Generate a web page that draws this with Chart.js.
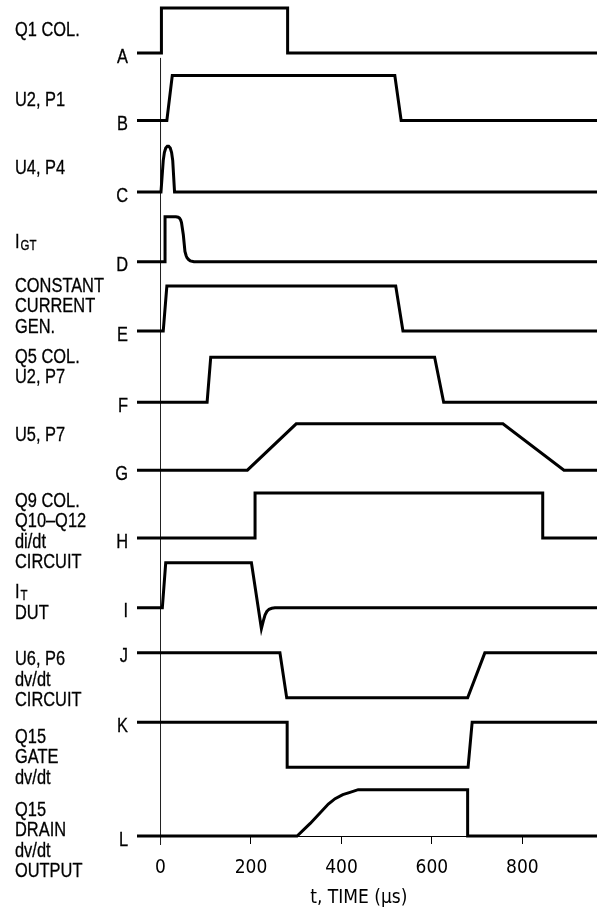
<!DOCTYPE html>
<html>
<head>
<meta charset="utf-8">
<script src="https://cdn.jsdelivr.net/npm/chart.js@4.4.0/dist/chart.umd.min.js"></script>
<style>
  html, body { margin: 0; padding: 0; background: #fff; }
  #wrap { width: 597px; height: 909px; position: relative; }
</style>
</head>
<body>
<div id="wrap"><canvas id="timing-chart"></canvas></div>
<script>
// time in us, level in "high" units (0 = low, 1 = high)
var tA = [-52, 2, 2, 281, 281, 965];
var vA = [0, 0, 1, 1, 0, 0];
var tB = [-52, 14, 26, 518, 532, 965];
var vB = [0, 0, 1, 1, 0, 0];
var tC = [-52, 1, 6, 8.5, 11.5, 15, 18, 21.5, 24.5, 27, 31, 965];
var vC = [0, 0, 0.7, 0.88, 0.98, 1.02, 1.02, 0.98, 0.88, 0.7, 0, 0];
var tD = [-52, 10, 10, 34, 39, 42, 44.5, 46.4, 50.4, 54, 56.5, 58.6, 62, 66, 74, 965];
var vD = [0, 0, 1, 1, 0.99, 0.97, 0.93, 0.87, 0.6, 0.23, 0.14, 0.09, 0.05, 0.02, 0, 0];
var tE = [-52, 6, 14, 520, 536, 965];
var vE = [0, 0, 1, 1, 0, 0];
var tF = [-52, 103, 111, 606, 626, 965];
var vF = [0, 0, 1, 1, 0, 0];
var tG = [-52, 192, 300, 757, 892, 965];
var vG = [0, 0, 1.03, 1.03, 0, 0];
var tH = [-52, 209, 209, 845, 845, 965];
var vH = [0, 0, 1, 1, 0, 0];
var tI = [-52, 4, 11.5, 201, 223, 227, 231, 235, 240, 246, 253, 965];
var vI = [0, 0, 1, 1, -0.46, -0.3, -0.16, -0.08, -0.03, -0.01, 0, 0];
var tJ = [-52, 264, 279, 679, 717, 965];
var vJ = [1, 1, 0, 0, 1, 1];
var tK = [-52, 280, 280, 680, 689, 965];
var vK = [1, 1, 0, 0, 1, 1];
var tL = [-52, 302, 331, 371, 386, 403, 419, 437, 679, 679, 965];
var vL = [0, 0, 0.28, 0.71, 0.83, 0.92, 0.97, 1.03, 1.03, 0, 0];

var letters = ["A", "B", "C", "D", "E", "F", "G", "H", "I", "J", "K", "L"];
var names = [
  ["Q1 COL."],
  ["U2, P1"],
  ["U4, P4"],
  ["I_GT"],
  ["CONSTANT", "CURRENT", "GEN."],
  ["Q5 COL.", "U2, P7"],
  ["U5, P7"],
  ["Q9 COL.", "Q10\u2013Q12", "di/dt", "CIRCUIT"],
  ["I_T", "DUT"],
  ["U6, P6", "dv/dt", "CIRCUIT"],
  ["Q15", "GATE", "dv/dt"],
  ["Q15", "DRAIN", "dv/dt", "OUTPUT"]
];
// low level of each trace on the stacked y scale
var lanes = [17.4, 15.9, 14.31, 12.76, 11.22, 9.64, 8.13, 6.62, 5.07, 3.07, 1.53, 0];
var tickValues = [0, 200, 400, 600, 800];

var times = [tA, tB, tC, tD, tE, tF, tG, tH, tI, tJ, tK, tL];
var levels = [vA, vB, vC, vD, vE, vF, vG, vH, vI, vJ, vK, vL];

var FONT = '"Liberation Sans", Arial, sans-serif';
var AXIS_FONT = '"DejaVu Sans Condensed", sans-serif';
// where the name block starts, relative to the trace's starting level (px)
var nameDy = [-23, -20, -24, -19, -45, -45, -35, -37, -15, 7, 15, -26];

document.addEventListener("DOMContentLoaded", function() {
  var ctx = document.getElementById("timing-chart").getContext("2d");

  var datasets = times.map(function(t, i) {
    return {
      label: letters[i],
      data: t.map(function(x, k) { return { x: x, y: lanes[i] + levels[i][k] }; }),
      showLine: true,
      borderColor: "#000",
      borderWidth: 3,
      borderJoinStyle: "miter",
      pointRadius: 0,
      clip: false
    };
  });

  // thin reference line at t = 0
  datasets.push({
    label: "t0",
    data: [{ x: 0, y: lanes[0] - 0.11 }, { x: 0, y: -0.2 }],
    showLine: true,
    borderColor: "#222",
    borderWidth: 1,
    pointRadius: 0,
    clip: false
  });

  // narrow text: Liberation Sans squeezed horizontally, a touch heavier
  function narrowText(c, text, x, y, size) {
    c.save();
    c.font = size + "px " + FONT;
    c.translate(x, y);
    c.scale(0.82, 1);
    c.lineWidth = 0.3;
    c.strokeStyle = "#000";
    c.fillText(text, 0, 0);
    c.strokeText(text, 0, 0);
    var w = c.measureText(text).width * 0.82;
    c.restore();
    return w;
  }

  function drawName(c, text, x, y) {
    var parts = text.split("_");
    var w = narrowText(c, parts[0], x, y, 20);
    if (parts.length > 1) {
      narrowText(c, parts[1], x + w + 1, y + 3, 14);
    }
  }

  var laneLabels = {
    id: "laneLabels",
    afterDraw: function(chart) {
      var c = chart.ctx;
      var ys = chart.scales.y;
      c.save();
      c.fillStyle = "#000";
      c.textBaseline = "middle";
      for (var i = 0; i < letters.length; i++) {
        var py = ys.getPixelForValue(lanes[i] + levels[i][0]);
        c.textAlign = "right";
        narrowText(c, letters[i], 128, py + 4, 20);
        c.textAlign = "left";
        for (var k = 0; k < names[i].length; k++) {
          drawName(c, names[i][k], 15, py + nameDy[i] + k * 20.5);
        }
      }
      c.restore();
    }
  };

  new Chart(ctx, {
    type: "scatter",
    data: { datasets: datasets },
    options: {
      responsive: true,
      maintainAspectRatio: false,
      animation: false,
      layout: { padding: { left: 137, right: 0, top: 0, bottom: 0 } },
      plugins: { legend: { display: false }, tooltip: { enabled: false } },
      scales: {
        x: {
          type: "linear",
          min: -52,
          max: 965,
          afterBuildTicks: function(scale) {
            scale.ticks = tickValues.map(function(v) { return { value: v }; });
          },
          afterFit: function(scale) { scale.height = 73; },
          border: { display: true, color: "#000", width: 1 },
          grid: { drawOnChartArea: false, drawTicks: true, tickLength: 8, color: "#000", lineWidth: 1 },
          ticks: { color: "#000", font: { family: AXIS_FONT, size: 19 }, padding: 13, maxRotation: 0 },
          title: {
            display: true,
            text: "t, TIME (\u03bcs)   ",
            color: "#000",
            font: { family: AXIS_FONT, size: 19 },
            padding: { top: 0, bottom: 0 }
          }
        },
        y: {
          display: false,
          min: 0,
          max: 18.578
        }
      }
    },
    plugins: [laneLabels]
  });
});
</script>
</body>
</html>
